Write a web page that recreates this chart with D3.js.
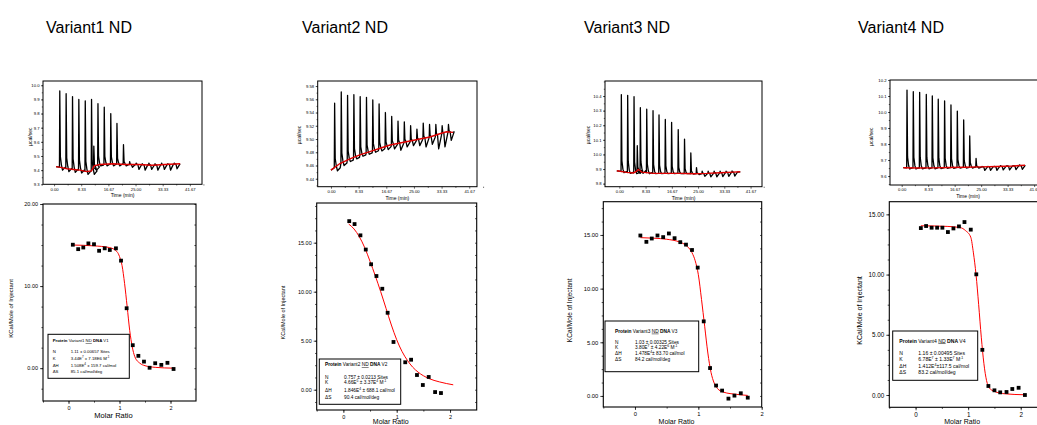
<!DOCTYPE html>
<html>
<head>
<meta charset="utf-8">
<script src="https://cdn.jsdelivr.net/npm/d3@7"></script>
<style>
  body { margin: 0; background: #fff; }
  svg { font-family: "Liberation Sans", Arial, sans-serif; }
</style>
</head>
<body>
<svg id="chart" width="1037" height="425"></svg>
<script>
// ---- data ----
const titles = ["Variant1 ND", "Variant2 ND", "Variant3 ND", "Variant4 ND"];
const proteins = ["Variant1", "Variant2", "Variant3", "Variant4"];
const dnas = ["V1", "V2", "V3", "V4"];
const timeTicks = [0, 8.33, 16.67, 25, 33.33, 41.67];
const ratioTicks = [0, 1, 2];
const paramNames = ["N", "K", "ΔH", "ΔS"];

// Variant1
const inj1Time = [1.65, 3.6, 5.56, 7.5, 9.47, 11.4, 12.1, 13.37, 15.3, 17.3, 19.2, 21.2, 23.1, 25.1, 27.0, 29.0, 30.9, 32.9, 34.8, 36.8];
const inj1Peak = [9.96, 9.94, 9.92, 9.90, 9.89, 9.90, 9.57, 9.87, 9.845, 9.80, 9.73, 9.58, 9.46, 9.45, 9.445, 9.45, 9.445, 9.45, 9.445, 9.45];
const inj1Dip = [9.40, 9.39, 9.385, 9.38, 9.37, 9.37, 9.40, 9.43, 9.43, 9.43, 9.43, 9.43, 9.42, 9.405, 9.40, 9.405, 9.40, 9.405, 9.40, 9.41];
const base1Time = [0.6, 2, 4, 6, 8, 10, 11.5, 12.3, 14, 18, 22, 26, 30, 34, 38.7];
const base1Rate = [9.425, 9.42, 9.41, 9.405, 9.40, 9.39, 9.395, 9.43, 9.44, 9.445, 9.44, 9.44, 9.435, 9.44, 9.445];
const raw1Ticks = [9.3, 9.4, 9.5, 9.6, 9.7, 9.8, 9.9, 10.0];
const ratio1 = [0.085, 0.19, 0.29, 0.39, 0.50, 0.60, 0.71, 0.81, 0.93, 1.03, 1.14, 1.26, 1.37, 1.48, 1.59, 1.70, 1.82, 1.94, 2.06];
const heat1 = [15.04, 14.5, 14.7, 15.2, 15.1, 14.3, 14.6, 14.4, 14.6, 13.1, 7.3, 2.8, 1.5, 0.8, 0.05, 0.6, 0.4, 0.65, -0.1];
const fit1Ratio = [0.08, 0.5, 0.8, 0.95, 1.0, 1.05, 1.1, 1.15, 1.2, 1.25, 1.3, 1.4, 1.5, 1.7, 2.06];
const fit1Heat = [15.0, 14.9, 14.7, 14.2, 13.6, 12.5, 10.3, 7.5, 4.6, 2.6, 1.4, 0.6, 0.3, 0.1, 0.0];
const heat1Ticks = [0, 10, 20];
const fit1Params = ["1.11 ± 0.00657 Sites", "3.44E^7^ ± 7.18E6 M^-1^", "1.508E^4^ ± 159.7 cal/mol", "85.1 cal/mol/deg"];

// Variant2
const inj2Time = [1.0, 3.0, 4.9, 6.8, 8.7, 10.6, 12.5, 14.4, 16.3, 18.2, 20.1, 22.0, 23.9, 25.8, 27.7, 29.6, 31.5, 33.4, 35.3];
const inj2Peak = [9.554, 9.571, 9.566, 9.567, 9.564, 9.563, 9.559, 9.553, 9.540, 9.534, 9.527, 9.526, 9.520, 9.515, 9.524, 9.522, 9.522, 9.520, 9.522];
const inj2Dip = [9.452, 9.46, 9.466, 9.47, 9.474, 9.477, 9.48, 9.482, 9.484, 9.485, 9.483, 9.488, 9.49, 9.49, 9.488, 9.492, 9.485, 9.488, 9.498];
const base2Time = [0, 2.7, 5.7, 8.7, 11.7, 14.8, 17.8, 20.8, 23.8, 26.8, 29.8, 32.8, 34.8, 36.8];
const base2Rate = [9.453, 9.463, 9.470, 9.476, 9.481, 9.486, 9.491, 9.494, 9.497, 9.500, 9.503, 9.508, 9.511, 9.510];
const raw2Ticks = [9.44, 9.46, 9.48, 9.50, 9.52, 9.54, 9.56, 9.58];
const ratio2 = [0.11, 0.21, 0.32, 0.42, 0.52, 0.62, 0.73, 0.83, 0.94, 1.16, 1.27, 1.38, 1.49, 1.60, 1.72, 1.83];
const heat2 = [17.2, 16.9, 15.75, 14.3, 12.8, 11.6, 10.3, 7.85, 4.87, 2.8, 3.06, 1.5, 0.48, 1.3, -0.24, -0.34];
const fit2Ratio = [0.1, 0.2, 0.3, 0.4, 0.5, 0.6, 0.7, 0.8, 0.9, 1.0, 1.1, 1.2, 1.3, 1.4, 1.6, 1.8, 2.06];
const fit2Heat = [16.9, 16.4, 15.6, 14.5, 13.1, 11.6, 10.0, 8.3, 6.6, 5.1, 3.9, 3.0, 2.3, 1.8, 1.15, 0.8, 0.5];
const heat2Ticks = [0, 5, 10, 15];
const fit2Params = ["0.757 ± 0.0213 Sites", "4.66E^5^ ± 3.37E^4^ M^-1^", "1.846E^4^ ± 688.1 cal/mol", "90.4 cal/mol/deg"];

// Variant3
const inj3Time = [0.54, 2.55, 4.57, 5.6, 6.58, 8.6, 10.6, 12.5, 14.5, 16.5, 18.6, 20.6, 22.6, 24.4, 26.2, 28.1, 30.0, 31.9, 33.8, 35.7];
const inj3Peak = [10.41, 10.405, 10.395, 10.06, 10.32, 10.31, 10.30, 10.27, 10.24, 10.22, 10.17, 10.105, 10.01, 9.91, 9.885, 9.885, 9.885, 9.885, 9.885, 9.887];
const inj3Dip = [9.875, 9.87, 9.868, 9.87, 9.87, 9.868, 9.868, 9.868, 9.868, 9.868, 9.868, 9.868, 9.866, 9.862, 9.85, 9.846, 9.846, 9.848, 9.85, 9.852];
const base3Time = [-0.8, 2.35, 4.45, 5.5, 6.05, 7.1, 10.8, 15.1, 19.3, 23.5, 27.8, 32.0, 36.2, 38.4];
const base3Rate = [9.888, 9.877, 9.873, 9.886, 9.898, 9.879, 9.870, 9.870, 9.870, 9.868, 9.870, 9.875, 9.879, 9.881];
const raw3Ticks = [9.8, 9.9, 10.0, 10.1, 10.2, 10.3, 10.4];
const ratio3 = [0.085, 0.18, 0.265, 0.355, 0.445, 0.535, 0.625, 0.715, 0.805, 0.90, 0.99, 1.085, 1.185, 1.28, 1.375, 1.475, 1.57, 1.67, 1.78];
const heat3 = [14.95, 14.36, 14.67, 14.95, 14.8, 15.14, 14.7, 14.33, 14.1, 13.6, 11.96, 6.95, 2.6, 0.97, 0.5, -0.25, 0.03, 0.25, -0.16];
const fit3Ratio = [0.085, 0.3, 0.5, 0.7, 0.8, 0.9, 0.95, 1.0, 1.05, 1.1, 1.15, 1.2, 1.25, 1.3, 1.4, 1.6, 1.78];
const fit3Heat = [14.75, 14.7, 14.6, 14.35, 14.05, 13.35, 12.6, 11.3, 9.0, 6.5, 4.0, 2.2, 1.2, 0.7, 0.35, 0.15, 0.05];
const heat3Ticks = [0, 5, 10, 15];
const fit3Params = ["1.03 ± 0.00325 Sites", "3.80E^7^ ± 4.22E^6^ M^-1^", "1.478E^4^± 83.70 cal/mol", "84.2 cal/mol/deg"];

// Variant4
const inj4Time = [1.57, 3.55, 5.55, 7.64, 9.53, 11.4, 13.4, 15.4, 17.4, 19.4, 21.3, 23.3, 25.2, 27.0, 29.0, 31.0, 33.0, 35.0, 37.0];
const inj4Peak = [10.137, 10.127, 10.123, 10.11, 10.10, 10.08, 10.069, 10.044, 10.006, 9.95, 9.85, 9.71, 9.66, 9.66, 9.66, 9.665, 9.665, 9.665, 9.67];
const inj4Dip = [9.644, 9.644, 9.645, 9.645, 9.645, 9.647, 9.648, 9.648, 9.65, 9.65, 9.65, 9.65, 9.635, 9.636, 9.636, 9.638, 9.638, 9.64, 9.642];
const base4Time = [0.5, 5, 10, 15, 20, 25, 30, 35, 38.8];
const base4Rate = [9.652, 9.650, 9.651, 9.653, 9.655, 9.657, 9.66, 9.663, 9.667];
const raw4Ticks = [9.6, 9.7, 9.8, 9.9, 10.0, 10.1, 10.2];
const ratio4 = [0.10, 0.20, 0.305, 0.41, 0.51, 0.615, 0.72, 0.825, 0.93, 1.05, 1.155, 1.27, 1.385, 1.50, 1.61, 1.73, 1.84, 1.96, 2.08];
const heat4 = [13.86, 14.03, 13.89, 13.89, 13.89, 13.53, 13.83, 14.0, 14.36, 13.73, 10.02, 3.75, 0.75, 0.39, 0.22, 0.25, 0.5, 0.6, 0.0];
const fit4Ratio = [0.1, 0.6, 0.85, 0.95, 1.05, 1.1, 1.15, 1.2, 1.25, 1.3, 1.35, 1.4, 1.5, 1.7, 2.08];
const fit4Heat = [14.05, 14.0, 13.9, 13.65, 13.1, 11.8, 10.0, 7.5, 4.8, 2.6, 1.2, 0.6, 0.3, 0.1, 0.02];
const heat4Ticks = [0, 5, 10, 15];
const fit4Params = ["1.16 ± 0.00495 Sites", "6.78E^7^ ± 1.33E^7^ M^-1^", "1.412E^4^±117.5 cal/mol", "83.2 cal/mol/deg"];

const series = [
  { injTime: inj1Time, injPeak: inj1Peak, injDip: inj1Dip, baseTime: base1Time, baseRate: base1Rate, rawTicks: raw1Ticks,
    ratio: ratio1, heat: heat1, fitRatio: fit1Ratio, fitHeat: fit1Heat, heatTicks: heat1Ticks, params: fit1Params },
  { injTime: inj2Time, injPeak: inj2Peak, injDip: inj2Dip, baseTime: base2Time, baseRate: base2Rate, rawTicks: raw2Ticks,
    ratio: ratio2, heat: heat2, fitRatio: fit2Ratio, fitHeat: fit2Heat, heatTicks: heat2Ticks, params: fit2Params },
  { injTime: inj3Time, injPeak: inj3Peak, injDip: inj3Dip, baseTime: base3Time, baseRate: base3Rate, rawTicks: raw3Ticks,
    ratio: ratio3, heat: heat3, fitRatio: fit3Ratio, fitHeat: fit3Heat, heatTicks: heat3Ticks, params: fit3Params },
  { injTime: inj4Time, injPeak: inj4Peak, injDip: inj4Dip, baseTime: base4Time, baseRate: base4Rate, rawTicks: raw4Ticks,
    ratio: ratio4, heat: heat4, fitRatio: fit4Ratio, fitHeat: fit4Heat, heatTicks: heat4Ticks, params: fit4Params }
];

// ---- layout (pixels) ----
const layout = [
  { titleX: 46,
    top: { x0: 43, x1: 202, y0: 81, y1: 184.3, tDom: [-3.4, 45.4], rDom: [9.3, 10.03], minor: 0.05, fmt: ".1f", labX: 31.7, labY: 136.7 },
    bot: { x0: 43, x1: 196, y0: 204, y1: 401, xDom: [-0.5, 2.5], yDom: [-4, 20], minor: 2.5, fs: 5.5, labX: 13, labFs: 6, mrY: 418, mrFs: 7.5 },
    leg: { x0: 48, y0: 334.3, x1: 129.3, y1: 378.3, tx: 52.7, vx: 70.7, hy: 342, rows: [353.4, 360, 367.4, 373.4], fs: 4.3 } },
  { titleX: 302,
    top: { x0: 317.7, x1: 477, y0: 81, y1: 186.7, tDom: [-4.0, 44.0], rDom: [9.428, 9.5876], minor: 0.01, fmt: ".2f", labX: 300.7, labY: 135 },
    bot: { x0: 316.7, x1: 476.7, y0: 203, y1: 410, xDom: [-0.5, 2.5], yDom: [-2.07, 19.05], minor: 1.25, fs: 5.5, labX: 285, labFs: 5.5, mrY: 424, mrFs: 7 },
    leg: { x0: 319.3, y0: 359, x1: 400.7, y1: 404.3, tx: 325, vx: 344, hy: 366, rows: [378.7, 384.4, 392, 399.4], fs: 4.8 } },
  { titleX: 584,
    top: { x0: 605, x1: 762, y0: 81, y1: 186.7, tDom: [-4.55, 45.3], rDom: [9.779, 10.503], minor: 0.05, fmt: ".1f", labX: 590, labY: 135 },
    bot: { x0: 603.3, x1: 761.7, y0: 201.7, y1: 407, xDom: [-0.5, 2.0], yDom: [-1.03, 18.1], minor: 1.25, fs: 5.8, labX: 572.3, labFs: 6.5, mrY: 424, mrFs: 7 },
    leg: { x0: 605, y0: 321, x1: 698.7, y1: 371.7, tx: 615, vx: 635, hy: 332.7, rows: [343.7, 349.4, 355.4, 361], fs: 4.8 } },
  { titleX: 858,
    top: { x0: 890, x1: 1046, y0: 80, y1: 185, tDom: [-3.68, 45.4], rDom: [9.544, 10.2], minor: 0.05, fmt: ".1f", labX: 873.3, labY: 136.7 },
    bot: { x0: 889.3, x1: 1047, y0: 201.7, y1: 407.3, xDom: [-0.5, 2.5], yDom: [-1.02, 16.05], minor: 1.25, fs: 6.3, labX: 861.7, labFs: 7, mrY: 424, mrFs: 7 },
    leg: { x0: 892.7, y0: 331, x1: 977.7, y1: 380.3, tx: 899.3, vx: 918.3, hy: 342.5, rows: [355, 361.3, 367.6, 374], fs: 5.1 } }
];

const svg = d3.select("#chart");

// text with ^sup^ markup
function richText(sel, str, fs) {
  const parts = str.split("^");
  parts.forEach((p, i) => {
    if (!p) return;
    const t = sel.append("tspan").text(p);
    if (i % 2 === 1) t.attr("font-size", fs * 0.7).attr("baseline-shift", "super");
  });
}

function drawPanel(d, L, idx) {
  // title
  svg.append("text").attr("x", L.titleX).attr("y", 33)
    .attr("font-size", 16).text(titles[idx]);

  // ---------- raw thermogram ----------
  const T = L.top;
  const tx = d3.scaleLinear().domain(T.tDom).range([T.x0, T.x1]);
  const ty = d3.scaleLinear().domain(T.rDom).range([T.y1, T.y0]);
  const gT = svg.append("g");
  const clipId = "clipT" + idx;
  gT.append("clipPath").attr("id", clipId).append("rect")
    .attr("x", T.x0).attr("y", T.y0).attr("width", T.x1 - T.x0).attr("height", T.y1 - T.y0);

  // spike shape per injection: baseline -> peak -> fast decay -> undershoot -> baseline
  const baseAt = d3.scaleLinear().domain(d.baseTime).range(d.baseRate).clamp(true);
  const trace = [[d.baseTime[0], d.baseRate[0]]];
  d.injTime.forEach((t, i) => {
    const b = baseAt(t), p = d.injPeak[i], m = d.injDip[i];
    trace.push([t, b], [t + 0.1, p], [t + 0.28, b + 0.14 * (p - b)], [t + 0.6, b + 0.03 * (p - b)], [t + 0.95, m], [t + 1.8, b]);
  });
  trace.push([d.baseTime[d.baseTime.length - 1], d.baseRate[d.baseRate.length - 1]]);
  const lineT = d3.line().x(p => tx(p[0])).y(p => ty(p[1]));
  gT.append("path").attr("d", lineT(trace)).attr("fill", "none")
    .attr("stroke", "#000").attr("stroke-width", 1.3).attr("stroke-linejoin", "round")
    .attr("clip-path", `url(#${clipId})`);
  gT.append("path").attr("d", lineT(d.baseTime.map((t, i) => [t, d.baseRate[i]])))
    .attr("fill", "none").attr("stroke", "#e00000").attr("stroke-width", 1.4)
    .attr("clip-path", `url(#${clipId})`);

  gT.append("rect").attr("x", T.x0).attr("y", T.y0).attr("width", T.x1 - T.x0).attr("height", T.y1 - T.y0)
    .attr("fill", "none").attr("stroke", "#000").attr("stroke-width", 1);

  const ayT = gT.append("g").attr("transform", `translate(${T.x0},0)`)
    .call(d3.axisLeft(ty).tickValues(d.rawTicks).tickSize(2).tickPadding(1.5).tickFormat(d3.format(T.fmt)));
  const minorY = d3.range(Math.ceil(T.rDom[0] / T.minor), Math.floor(T.rDom[1] / T.minor) + 1).map(k => k * T.minor);
  gT.append("g").attr("transform", `translate(${T.x0},0)`)
    .call(d3.axisLeft(ty).tickValues(minorY).tickSize(1.2).tickFormat(""));
  const axT = gT.append("g").attr("transform", `translate(0,${T.y1})`)
    .call(d3.axisBottom(tx).tickValues(timeTicks).tickSize(2).tickPadding(1.5).tickFormat(d3.format(".2f")));
  gT.append("g").attr("transform", `translate(0,${T.y1})`)
    .call(d3.axisBottom(tx).tickValues(timeTicks.map(v => v + 4.165)).tickSize(1.2).tickFormat(""));
  [ayT, axT].forEach(a => {
    a.selectAll("text").attr("font-size", 4.2).attr("font-family", "Liberation Sans, Arial, sans-serif");
  });
  gT.selectAll(".domain").remove();
  gT.selectAll("g line").attr("stroke-width", 0.6);

  gT.append("text").attr("x", (T.x0 + T.x1) / 2).attr("y", T.y1 + 13).attr("text-anchor", "middle")
    .attr("font-size", 5).text("Time (min)");
  gT.append("text").attr("transform", `translate(${T.labX},${T.labY}) rotate(-90)`).attr("text-anchor", "middle")
    .attr("font-size", 5).text("µcal/sec");

  // ---------- integrated heats ----------
  const B = L.bot;
  const bx = d3.scaleLinear().domain(B.xDom).range([B.x0, B.x1]);
  const by = d3.scaleLinear().domain(B.yDom).range([B.y1, B.y0]);
  const gB = svg.append("g");

  gB.append("rect").attr("x", B.x0).attr("y", B.y0).attr("width", B.x1 - B.x0).attr("height", B.y1 - B.y0)
    .attr("fill", "none").attr("stroke", "#000").attr("stroke-width", 1.1);

  const minorH = d3.range(Math.ceil(B.yDom[0] / B.minor), Math.floor(B.yDom[1] / B.minor) + 1).map(k => k * B.minor);
  const minorR = d3.range(-1, 5).map(k => k * 0.5);
  gB.append("g").attr("class", "ax").attr("transform", `translate(${B.x0},0)`)
    .call(d3.axisLeft(by).tickValues(d.heatTicks).tickSize(3).tickPadding(2).tickFormat(d3.format(".2f")));
  gB.append("g").attr("class", "ax").attr("transform", `translate(${B.x0},0)`)
    .call(d3.axisLeft(by).tickValues(minorH).tickSize(1.6).tickFormat(""));
  gB.append("g").attr("class", "ax").attr("transform", `translate(${B.x1},0)`)
    .call(d3.axisLeft(by).tickValues(minorH).tickSize(1.6).tickFormat(""));
  gB.append("g").attr("class", "ax").attr("transform", `translate(0,${B.y1})`)
    .call(d3.axisBottom(bx).tickValues(ratioTicks).tickSize(3).tickPadding(2).tickFormat(d3.format("d")));
  gB.append("g").attr("class", "ax").attr("transform", `translate(0,${B.y1})`)
    .call(d3.axisBottom(bx).tickValues(minorR).tickSize(1.6).tickFormat(""));
  gB.selectAll(".ax .domain").remove();
  gB.selectAll(".ax line").attr("stroke-width", 0.7);
  gB.selectAll(".ax text").attr("font-size", B.fs).attr("font-family", "Liberation Sans, Arial, sans-serif");

  // fit curve
  gB.append("path")
    .attr("d", d3.line().curve(d3.curveMonotoneX).x(p => bx(p[0])).y(p => by(p[1]))(d.fitRatio.map((r, i) => [r, d.fitHeat[i]])))
    .attr("fill", "none").attr("stroke", "#ff0000").attr("stroke-width", 1);

  // points
  const sq = 3.8;
  gB.selectAll("rect.pt").data(d.ratio.map((r, i) => [r, d.heat[i]])).enter().append("rect")
    .attr("class", "pt")
    .attr("x", p => bx(p[0]) - sq / 2).attr("y", p => by(p[1]) - sq / 2)
    .attr("width", sq).attr("height", sq).attr("fill", "#000");

  gB.append("text").attr("transform", `translate(${B.labX},${(B.y0 + B.y1) / 2 + 6}) rotate(-90)`)
    .attr("text-anchor", "middle").attr("font-size", B.labFs).text("KCal/Mole of Injectant");
  gB.append("text").attr("x", (B.x0 + B.x1) / 2 - 6).attr("y", B.mrY).attr("text-anchor", "middle")
    .attr("font-size", B.mrFs).text("Molar Ratio");

  // legend box
  const G = L.leg;
  const gL = svg.append("g");
  gL.append("rect").attr("x", G.x0).attr("y", G.y0).attr("width", G.x1 - G.x0).attr("height", G.y1 - G.y0)
    .attr("fill", "#fff").attr("stroke", "#000").attr("stroke-width", 1);
  const hdr = gL.append("text").attr("x", G.tx).attr("y", G.hy).attr("font-size", G.fs);
  hdr.append("tspan").attr("font-weight", "bold").text("Protein ");
  hdr.append("tspan").text(proteins[idx] + " ");
  hdr.append("tspan").attr("text-decoration", "underline").text("ND");
  hdr.append("tspan").text("  ");
  hdr.append("tspan").attr("font-weight", "bold").text("DNA ");
  hdr.append("tspan").text(dnas[idx]);
  d.params.forEach((s, i) => {
    gL.append("text").attr("x", G.tx).attr("y", G.rows[i]).attr("font-size", G.fs).text(paramNames[i]);
    richText(gL.append("text").attr("x", G.vx).attr("y", G.rows[i]).attr("font-size", G.fs), s, G.fs);
  });
}

series.forEach((d, i) => drawPanel(d, layout[i], i));
</script>
</body>
</html>
